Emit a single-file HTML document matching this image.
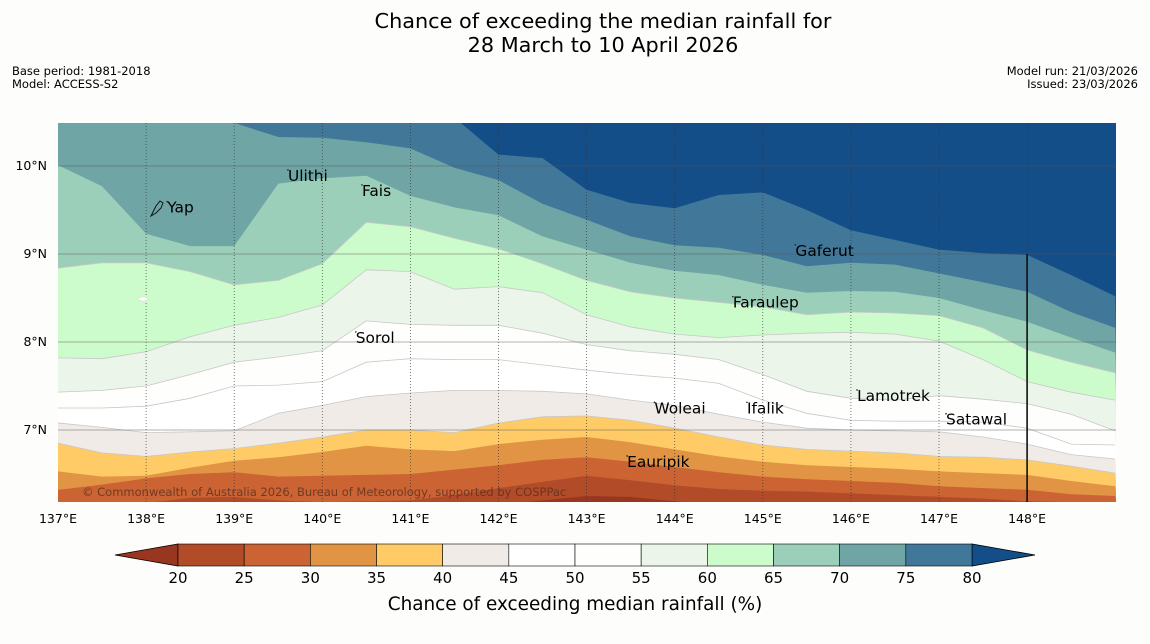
<!DOCTYPE html>
<html><head><meta charset="utf-8"><style>
html,body{margin:0;padding:0;background:#fdfefc;width:1150px;height:644px;overflow:hidden}
svg{display:block;font-family:"DejaVu Sans","Liberation Sans",sans-serif}
</style></head><body>
<svg id="chart" width="1150" height="644" viewBox="0 0 1150 644" xmlns="http://www.w3.org/2000/svg">
<text x="603" y="28" font-size="20.8" text-anchor="middle" fill="#000">Chance of exceeding the median rainfall for</text>
<text x="603" y="52" font-size="20.8" text-anchor="middle" fill="#000">28 March to 10 April 2026</text>
<text x="12" y="75" font-size="11.5">Base period: 1981-2018</text>
<text x="12" y="88" font-size="11.5">Model: ACCESS-S2</text>
<text x="1138" y="75" font-size="11.5" text-anchor="end">Model run: 21/03/2026</text>
<text x="1138" y="88" font-size="11.5" text-anchor="end">Issued: 23/03/2026</text>
<defs><clipPath id="plotclip"><rect x="58" y="123" width="1058" height="379"/></clipPath></defs>
<g id="map" clip-path="url(#plotclip)"></g>
<g id="overlay"></g>
<g id="axes"></g>
<g id="cbar"></g>
</svg>
<script>
const lons = [137,137.5,138,138.5,139,139.5,140,140.5,141,141.5,142,142.5,143,143.5,144,144.5,145,145.5,146,146.5,147,147.5,148,148.5,149];
const levels = [80,75,70,65,60,55,50,45,40,35,30,25,20];
const c80 = [10.75,10.75,10.75,10.75,10.75,10.75,10.75,10.75,10.75,10.55,10.13,10.09,9.73,9.58,9.52,9.67,9.70,9.50,9.27,9.16,9.05,9.01,8.99,8.76,8.52];
const c75 = [10.75,10.75,10.64,10.52,10.49,10.33,10.32,10.27,10.20,9.98,9.84,9.57,9.39,9.20,9.10,9.07,8.99,8.86,8.90,8.88,8.78,8.68,8.57,8.34,8.16];
const c70 = [10.01,9.77,9.23,9.09,9.09,9.80,9.86,9.89,9.66,9.53,9.44,9.20,9.05,8.90,8.81,8.76,8.65,8.56,8.58,8.57,8.50,8.36,8.23,8.05,7.88];
const c65 = [8.84,8.90,8.90,8.80,8.65,8.70,8.89,9.36,9.31,9.18,9.06,8.89,8.70,8.57,8.50,8.45,8.40,8.31,8.34,8.33,8.30,8.16,7.91,7.77,7.65];
const c60 = [7.82,7.81,7.89,8.06,8.19,8.28,8.42,8.82,8.80,8.60,8.63,8.56,8.31,8.17,8.09,8.05,8.08,8.10,8.11,8.09,8.01,7.80,7.55,7.43,7.34];
const c55 = [7.43,7.45,7.50,7.63,7.77,7.83,7.90,8.24,8.20,8.19,8.19,8.10,7.97,7.90,7.86,7.80,7.63,7.44,7.36,7.34,7.39,7.35,7.30,7.18,6.99];
const c50 = [7.25,7.25,7.27,7.36,7.50,7.51,7.55,7.77,7.81,7.80,7.80,7.74,7.68,7.63,7.59,7.53,7.34,7.19,7.11,7.10,7.10,7.09,7.02,6.84,6.83];
const c45 = [7.08,7.03,6.97,6.98,6.99,7.19,7.28,7.38,7.42,7.45,7.45,7.44,7.41,7.34,7.28,7.18,7.09,7.02,7.00,6.99,6.98,6.92,6.84,6.72,6.67];
const c40 = [6.85,6.74,6.70,6.75,6.79,6.85,6.92,7.00,7.00,6.97,7.08,7.15,7.16,7.11,7.02,6.92,6.83,6.78,6.76,6.74,6.70,6.69,6.66,6.59,6.51];
const c35 = [6.53,6.47,6.48,6.57,6.65,6.69,6.75,6.82,6.78,6.76,6.84,6.89,6.92,6.86,6.78,6.70,6.64,6.60,6.58,6.56,6.53,6.51,6.49,6.42,6.36];
const c30 = [6.32,6.38,6.45,6.50,6.52,6.47,6.48,6.49,6.50,6.55,6.60,6.66,6.69,6.64,6.58,6.52,6.47,6.44,6.42,6.40,6.36,6.34,6.32,6.27,6.25];
const c25 = [6.17,6.17,6.17,6.23,6.24,6.20,6.18,6.19,6.20,6.26,6.34,6.41,6.48,6.43,6.37,6.33,6.31,6.30,6.28,6.26,6.24,6.22,6.19,6.18,6.17];
const c20 = [6.15,6.15,6.15,6.15,6.15,6.15,6.15,6.15,6.15,6.15,6.15,6.20,6.25,6.24,6.19,6.15,6.15,6.15,6.15,6.15,6.15,6.15,6.15,6.15,6.15];
const contours = [c80,c75,c70,c65,c60,c55,c50,c45,c40,c35,c30,c25,c20];
const bandColors = ["#144e88","#417799","#6fa5a5","#9bcfb9","#ccfccb","#ebf5ea","#fefffd","#ffffff","#f0ebe7","#fecb66","#e09444","#cb6332","#b24b28","#983620"];
const cbarTicks = [20,25,30,35,40,45,50,55,60,65,70,75,80];
const lonTicks = [137,138,139,140,141,142,143,144,145,146,147,148];
const latTicks = [10,9,8,7];
const islandNames = ["Yap","Ulithi","Fais","Gaferut","Faraulep","Sorol","Woleai","Ifalik","Lamotrek","Satawal","Eauripik"];
const islandLon = [138.24,139.61,140.45,145.37,144.66,140.38,143.77,144.82,146.07,147.08,143.46];
const islandLat = [9.47,9.83,9.66,8.98,8.39,7.99,7.19,7.19,7.33,7.06,6.58];

const NS="http://www.w3.org/2000/svg";
const xOf = lon => 58 + (lon-137)*88.1;
const yOf = lat => 166 + (10-lat)*88;
function mk(tag, attrs, parent){const e=document.createElementNS(NS,tag);for(const k in attrs)e.setAttribute(k,attrs[k]);parent.appendChild(e);return e;}

const map=document.getElementById('map');
const bg=mk('rect',{x:58,y:123,width:1058,height:379,fill:bandColors[0]},map);


contours.forEach((c,i)=>{
  let d='M'+xOf(lons[0])+','+yOf(c[0]);
  for(let j=1;j<lons.length;j++) d+=' L'+xOf(lons[j]).toFixed(1)+','+yOf(c[j]).toFixed(1);
  d+=' L1120,520 L50,520 Z';
  const p=mk('path',{d:d,fill:bandColors[i+1]},map);
  
  
  if(levels[i]<=65 && levels[i]>=40){
    let l='M'+xOf(lons[0])+','+yOf(c[0]);
    for(let j=1;j<lons.length;j++) l+=' L'+xOf(lons[j]).toFixed(1)+','+yOf(c[j]).toFixed(1);
    const ln=mk('path',{d:l,fill:'none',stroke:'#c8c8c8','stroke-width':0.8},map);
    
    
  }
});
const ov=document.getElementById('overlay');
lonTicks.forEach(lo=>{ if(lo===137) return;
  const g=mk('line',{x1:xOf(lo),x2:xOf(lo),y1:123,y2:502,stroke:'#333','stroke-width':0.8,'stroke-dasharray':'1,2','stroke-opacity':0.8},ov);
  
  
});
latTicks.forEach(la=>{
  const g=mk('line',{x1:58,x2:1116,y1:yOf(la),y2:yOf(la),stroke:'#555','stroke-width':1,'stroke-opacity':0.45},ov);
  
  
});
const eez=mk('line',{x1:xOf(148),x2:xOf(148),y1:yOf(9),y2:502,stroke:'#111','stroke-width':1.6},ov);


const copy=mk('text',{x:82,y:496,'font-size':11.5,fill:'#5a3020','fill-opacity':0.8},ov);
copy.textContent='© Commonwealth of Australia 2026, Bureau of Meteorology, supported by COSPPac';


const yap=mk('path',{d:'M151,216 L156,206 L160,201 L163,203 L161,208 L156,213 Z',fill:'none',stroke:'#111','stroke-width':1},ov);


const ell=mk('ellipse',{cx:143,cy:299,rx:5,ry:2,fill:'#fff',stroke:'#ddd','stroke-width':0.6},ov);


islandNames.forEach((n,i)=>{
  const x=xOf(islandLon[i]), y=yOf(islandLat[i]);
  const dot=mk('circle',{cx:x,cy:y-11,r:0.8,fill:'#222'},ov);
  
  
  const t=mk('text',{x:x,y:y,'font-size':15.4,fill:'#000'},ov);
  t.textContent=n;
  
  
});
const ax=document.getElementById('axes');
lonTicks.forEach(lo=>{
  const t=mk('text',{x:xOf(lo),y:523,'font-size':12.5,'text-anchor':'middle'},ax);
  t.textContent=lo+'°E';
  
  
});
latTicks.forEach(la=>{
  const t=mk('text',{x:47,y:yOf(la)+4,'font-size':12.5,'text-anchor':'end'},ax);
  t.textContent=la+'°N';
  
  
});
const cb=document.getElementById('cbar');
const cbX = v => 178 + (v-20)*(794/60);
const cbTop=544, cbBot=566;
const lt=mk('polygon',{points:`115,${(cbTop+cbBot)/2} ${cbX(20)},${cbTop} ${cbX(20)},${cbBot}`,fill:bandColors[13],stroke:'#000','stroke-width':0.8},cb);


const rt=mk('polygon',{points:`1035,${(cbTop+cbBot)/2} ${cbX(80)},${cbTop} ${cbX(80)},${cbBot}`,fill:bandColors[0],stroke:'#000','stroke-width':0.8},cb);


for(let i=0;i<cbarTicks.length-1;i++){
  const r=mk('rect',{x:cbX(cbarTicks[i]),y:cbTop,width:cbX(cbarTicks[i+1])-cbX(cbarTicks[i]),height:cbBot-cbTop,fill:bandColors[12-i],stroke:'#000','stroke-width':0.6},cb);
  
  
}
cbarTicks.forEach(v=>{
  const t=mk('text',{x:cbX(v),y:583,'font-size':15,'text-anchor':'middle'},cb);
  t.textContent=v;
  
  
});
const ct=mk('text',{x:575,y:610,'font-size':18.4,'text-anchor':'middle'},cb);
ct.textContent='Chance of exceeding median rainfall (%)';


</script>
</body></html>
